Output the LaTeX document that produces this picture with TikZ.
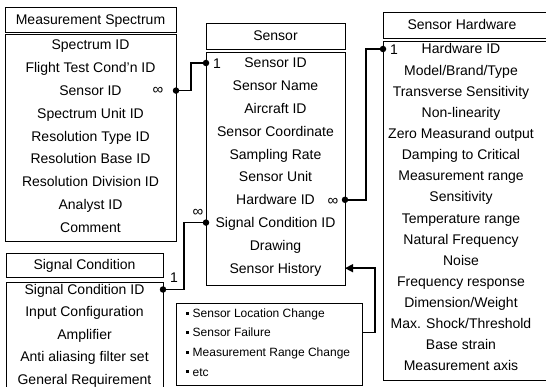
\documentclass[tikz,border=0pt]{standalone}
\usepackage{fontspec}
\setmainfont{Liberation Sans}
\usetikzlibrary{arrows.meta}

\begin{document}
\begin{tikzpicture}[x=1pt,y=-1pt,
  box/.style={draw,line width=0.9pt,inner sep=0,outer sep=0,anchor=north west},
  head/.style={font=\fontsize{14}{16}\selectfont,inner sep=0,text height=11.5pt,text depth=1.5pt},
  row/.style={font=\fontsize{14}{16}\selectfont,inner sep=0,text height=11.5pt,text depth=1.5pt},
  item/.style={font=\fontsize{12}{14}\selectfont,inner sep=0,anchor=west,text height=9.6pt,text depth=1pt},
  bul/.style={fill,inner sep=0,minimum size=3pt},
  wire/.style={line width=1.6pt},
  dot/.style={circle,fill,inner sep=0,minimum size=6.5pt},
  mult/.style={font=\fontsize{15}{16}\selectfont,inner sep=0},
  one/.style={font=\fontsize{14}{16}\selectfont,inner sep=0,text height=11.5pt,text depth=1.5pt},
]
\useasboundingbox (0,0) rectangle (546,387);
\clip (0,0) rectangle (546,387);

% ---- Measurement Spectrum ----
\node[box,minimum width=171pt,minimum height=25pt] (specT) at (5,7) {};
\node[head] (specTL) at (specT.center) {Measurement Spectrum};
\node[box,minimum width=171pt,minimum height=207pt] (specB) at (5,34) {};
\foreach \t [count=\i] in {Spectrum ID,Flight Test Cond’n ID,Sensor ID,Spectrum Unit ID,
  Resolution Type ID,Resolution Base ID,Resolution Division ID,Analyst ID,Comment}
  \node[row] (sp\i) at (90.5,{45+(\i-1)*22.8}) {\t};

% ---- Sensor ----
\node[box,minimum width=139pt,minimum height=26pt] (senT) at (206,23) {};
\node[head] (senTL) at (senT.center) {Sensor};
\node[box,minimum width=139pt,minimum height=233pt] (senB) at (206,52) {};
\foreach \t [count=\i] in {Sensor ID,Sensor Name,Aircraft ID,Sensor Coordinate,Sampling Rate,
  Sensor Unit,Hardware ID,Signal Condition ID,Drawing,Sensor History}
  \node[row] (sn\i) at (275.5,{63+(\i-1)*22.8}) {\t};

% ---- Sensor Hardware ----
\node[box,minimum width=172pt,minimum height=26pt] (hwT) at (383,12) {};
\node[head] (hwTL) at (462,25) {Sensor Hardware};
\node[box,minimum width=172pt,minimum height=339pt] (hwB) at (383,41) {};
\foreach \t [count=\i] in {Hardware ID,Model/Brand/Type,Transverse Sensitivity,Non-linearity,
  Zero Measurand output,Damping to Critical,Measurement range,Sensitivity,Temperature range,
  Natural Frequency,Noise,Frequency response,Dimension/Weight,Max. Shock/Threshold,
  Base strain,Measurement axis}
  \node[row] (hw\i) at (461,{49+(\i-1)*21.13}) {\t};

% ---- Signal Condition ----
\node[box,minimum width=157pt,minimum height=24pt] (sigT) at (6,253) {};
\node[head] (sigTL) at (sigT.center) {Signal Condition};
\node[box,minimum width=157pt,minimum height=115pt] (sigB) at (6,282) {};
\foreach \t [count=\i] in {Signal Condition ID,Input Configuration,Amplifier,
  Anti aliasing filter set,General Requirement}
  \node[row] (sg\i) at (84.5,{289.5+(\i-1)*22.4}) {\t};

% ---- Sensor history notes ----
\node[box,minimum width=186pt,minimum height=82pt] (hist) at (176,303) {};
\foreach \t [count=\i] in {Sensor Location Change,Sensor Failure,Measurement Range Change,etc}
  {\node[bul] (hb\i) at (187,{313+(\i-1)*19.6}) {};
   \node[item] (hi\i) at (192.5,{313+(\i-1)*19.6}) {\t};}

% ---- relationship end points ----
\node[dot] (dSpec) at (specB.east |- sp3) {};
\node[dot] (dSenId) at (senB.west |- sn1) {};
\node[dot] (dSenHw) at (senB.east |- sn7) {};
\node[dot] (dHwId) at (hwB.west |- hw1) {};
\node[dot] (dSenSig) at (senB.west |- sn8) {};
\node[dot] (dSigId) at (sigB.east |- sg1) {};

% ---- relationships ----
\draw[wire] (dSpec.center) -- ++(15,0) |- (dSenId.center);
\draw[wire] (dSenHw.center) -- ++(21,0) |- (dHwId.center);
\draw[wire] (dSenSig.center) -- ++(-22,0) |- (dSigId.center);
\draw[line width=1.4pt,-{Triangle[length=8pt,width=8pt]}]
  (hist.east |- hi2) -- ++(13,0) |- (senB.east |- sn10);

% ---- multiplicities ----
\node[mult] (m1) at (158,91) {∞};
\node[one] (o1) at (217,64) {1};
\node[mult] (m2) at (333,202) {∞};
\node[one] (o2) at (394,50) {1};
\node[mult] (m3) at (198,213) {∞};
\node[one] (o3) at (174,278) {1};
\end{tikzpicture}
\end{document}
